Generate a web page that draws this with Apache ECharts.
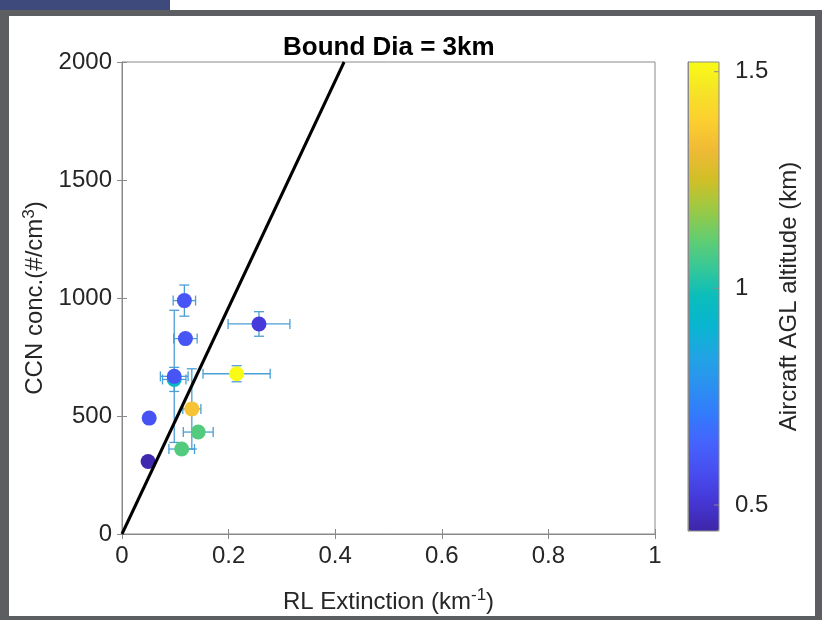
<!DOCTYPE html>
<html><head><meta charset="utf-8">
<script src="https://cdn.jsdelivr.net/npm/echarts@6/dist/echarts.min.js"></script>
<style>html,body{margin:0;padding:0;background:#fff}#c{width:822px;height:620px}</style>
</head><body><div id="c"></div>
<script>
// ---- data ----
const titleText = 'Bound Dia = 3km';
const xTicks = [0, 0.2, 0.4, 0.6, 0.8, 1];
const yTicks = [0, 500, 1000, 1500, 2000];
const cbTicks = [0.5, 1, 1.5];
const extinction = [0.117, 0.119, 0.098, 0.098, 0.257, 0.215, 0.131, 0.143, 0.112, 0.051, 0.049];
const ccn        = [989,   828,   655,   668,   890,   679,   530,   432,   360,   491,   307];
const altitude   = [0.60,  0.60,  0.95,  0.60,  0.52,  1.52,  1.35,  1.09,  1.09,  0.59,  0.45];
const extErr     = [0.021, 0.022, 0.022, 0.026, 0.058, 0.063, 0.017, 0.028, 0.024, 0,     0];
const ccnErr     = [66,    0,     51,    280,   52,    34,    170,   0,     0,     0,     0];
const fitX = [0, 0.4167];
const fitY = [0, 2000];
const altRange = [0.44, 1.5224];
const parula = ['#3e26a8','#4537d5','#484df0','#4563fd','#327bfc','#2b91ef','#20a5e3','#08b5d0',
                '#0bbdbc','#37c897','#64cd6f','#9dc943','#d1bf27','#efba36','#fccf30','#f5e327','#f9fb15'];

// ---- build ----
const FONT = '"Liberation Sans", Arial, Helvetica, sans-serif';
const TXT = '#262626';
const AX = '#8a8a8a';
const pts = extinction.map((x, i) => [x, ccn[i], altitude[i]]);
const errs = extinction.map((x, i) => [x, ccn[i], extErr[i], ccnErr[i]]);
const fit = fitX.map((x, i) => [x, fitY[i]]);
const cbTickData = cbTicks.map(v => [1, v]);

const chart = echarts.init(document.getElementById('c'), null, {renderer: 'canvas'});
const tick = () => ({show: true, inside: true, length: 5, lineStyle: {color: AX}});
const axLine = {show: true, lineStyle: {color: AX, width: 1}};
const labStyle = {fontSize: 24, color: TXT, fontFamily: FONT};
const rich = {
  a: {fontSize: 24, color: TXT, fontFamily: FONT, lineHeight: 30},
  s: {fontSize: 17, color: TXT, fontFamily: FONT, verticalAlign: 'top', lineHeight: 17}
};

chart.setOption({
  animation: false,
  backgroundColor: '#5d5e62',
  graphic: [
    {type: 'rect', z: -10, shape: {x: 170, y: 0, width: 652, height: 10}, style: {fill: '#ffffff'}},
    {type: 'rect', z: -10, shape: {x: 0, y: 0, width: 170, height: 10}, style: {fill: '#3f4a7c'}},
    {type: 'rect', z: -10, shape: {x: 9, y: 16, width: 806, height: 600}, style: {fill: '#ffffff'}}
  ],
  title: {
    text: titleText, left: 283, top: 35, padding: 0,
    textStyle: {fontSize: 26, fontWeight: 'bold', color: '#000', fontFamily: FONT}
  },
  grid: [
    {left: 122, top: 62, width: 533, height: 472, show: true, borderColor: AX, borderWidth: 1, backgroundColor: 'transparent'},
    {left: 688, top: 62, width: 31, height: 469, show: true, borderColor: AX, borderWidth: 1, backgroundColor: 'transparent', z: 10}
  ],
  visualMap: {
    type: 'continuous', min: altRange[0], max: altRange[1], dimension: 2, seriesIndex: 1, z: 1,
    calculable: false, hoverLink: false, orient: 'vertical', left: 688, top: 62,
    itemWidth: 31, itemHeight: 469, padding: 0, text: null, showLabel: false,
    inRange: {color: parula}
  },
  xAxis: [
    {type: 'value', gridIndex: 0, position: 'bottom', min: xTicks[0], max: xTicks[xTicks.length - 1], interval: 0.2,
     axisLine: axLine, axisTick: tick(), splitLine: {show: false},
     axisLabel: Object.assign({margin: 10, formatter: v => String(+v.toFixed(1))}, labStyle),
     name: '{a|RL Extinction (km}{s|-1}{a|)}', nameLocation: 'middle', nameGap: 53,
     nameTextStyle: {rich: rich}},
    {type: 'value', gridIndex: 0, position: 'top', min: xTicks[0], max: xTicks[xTicks.length - 1], interval: 0.2,
     axisLine: axLine, axisTick: tick(), axisLabel: {show: false}, splitLine: {show: false}},
    {type: 'value', gridIndex: 1, show: false, min: 0, max: 1}
  ],
  yAxis: [
    {type: 'value', gridIndex: 0, position: 'left', min: yTicks[0], max: yTicks[yTicks.length - 1], interval: 500,
     axisLine: axLine, axisTick: tick(), splitLine: {show: false},
     axisLabel: Object.assign({margin: 10, formatter: v => String(v)}, labStyle),
     name: '{a|CCN conc.(#/cm}{s|3}{a|)}', nameLocation: 'middle', nameRotate: 90, nameGap: 63,
     nameTextStyle: {rich: rich}},
    {type: 'value', gridIndex: 0, position: 'right', min: yTicks[0], max: yTicks[yTicks.length - 1], interval: 500,
     axisLine: axLine, axisTick: tick(), axisLabel: {show: false}, splitLine: {show: false}},
    {type: 'value', gridIndex: 1, position: 'right', min: altRange[0], max: altRange[1], z: 10,
     axisLine: axLine, splitLine: {show: false},
     axisTick: {show: false},
     axisLabel: Object.assign({margin: 16, customValues: cbTicks, formatter: v => String(v)}, labStyle),
     name: 'Aircraft AGL altitude (km)', nameLocation: 'middle', nameRotate: 90, nameGap: 58,
     nameTextStyle: {fontSize: 24, color: TXT, fontFamily: FONT}}
  ],
  series: [
    {
      type: 'custom', xAxisIndex: 0, yAxisIndex: 0, z: 2, data: errs,
      encode: {x: 0, y: 1},
      renderItem: function (params, api) {
        const x = api.value(0), y = api.value(1), xe = api.value(2), ye = api.value(3);
        const cap = 5;
        const st = {stroke: '#4a9fd6', lineWidth: 1.3, fill: null};
        const ch = [];
        const seg = (a, b, c, d) => ch.push({type: 'line', shape: {x1: a, y1: b, x2: c, y2: d}, style: st});
        if (xe > 0) {
          const l = api.coord([x - xe, y]), r = api.coord([x + xe, y]);
          seg(l[0], l[1], r[0], r[1]);
          seg(l[0], l[1] - cap, l[0], l[1] + cap);
          seg(r[0], r[1] - cap, r[0], r[1] + cap);
        }
        if (ye > 0) {
          const t = api.coord([x, y + ye]), b = api.coord([x, y - ye]);
          seg(t[0], t[1], b[0], b[1]);
          seg(t[0] - cap, t[1], t[0] + cap, t[1]);
          seg(b[0] - cap, b[1], b[0] + cap, b[1]);
        }
        return {type: 'group', children: ch};
      }
    },
    {type: 'scatter', xAxisIndex: 0, yAxisIndex: 0, z: 3, data: pts, symbol: 'circle', symbolSize: 15,
     itemStyle: {opacity: 1}},
    {type: 'line', xAxisIndex: 0, yAxisIndex: 0, z: 4, data: fit, showSymbol: false, symbol: 'none',
     lineStyle: {color: '#000', width: 3}},
    {
      type: 'custom', xAxisIndex: 2, yAxisIndex: 2, z: 5, data: cbTickData, silent: true,
      encode: {x: 0, y: 1},
      renderItem: function (params, api) {
        const p = api.coord([api.value(0), api.value(1)]);
        return {type: 'line', shape: {x1: p[0] - 5, y1: p[1], x2: p[0], y2: p[1]},
                style: {stroke: AX, lineWidth: 1}};
      }
    }
  ]
});
</script></body></html>
